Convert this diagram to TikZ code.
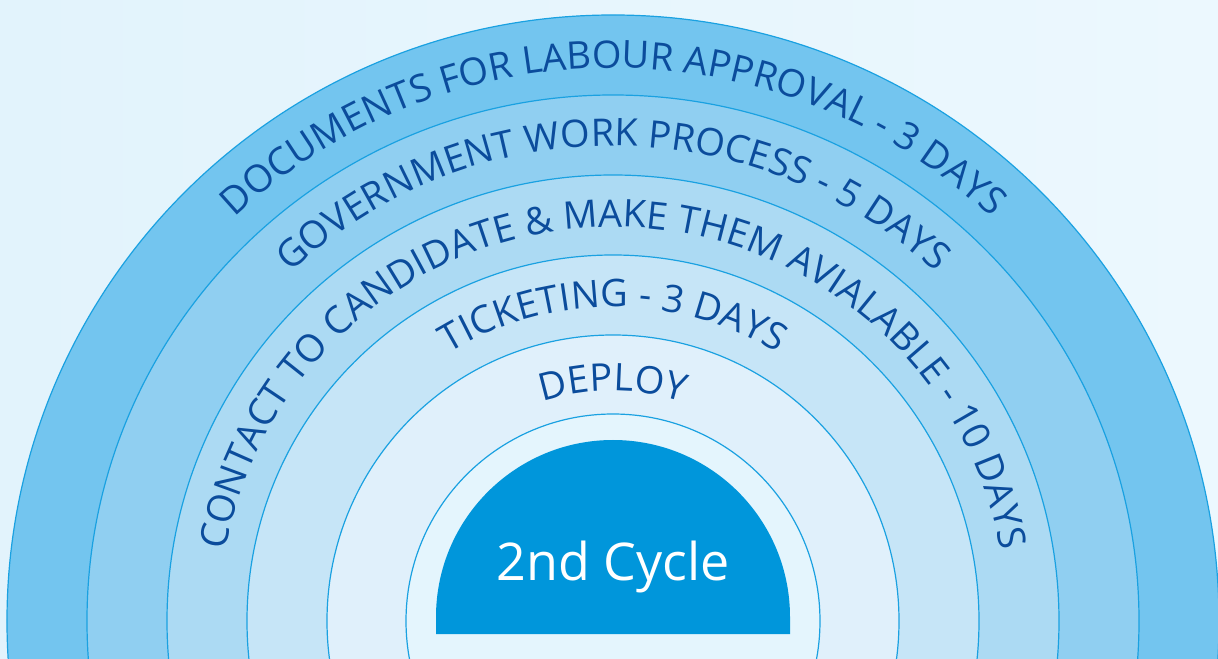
\documentclass[tikz,border=0pt]{standalone}
\usepackage{fontspec}
\setmainfont{Open Sans}
\usepackage{xcolor}
\usepackage{tikz}
\usetikzlibrary{decorations.text}

\definecolor{bgleft}{HTML}{E2F3FC}
\definecolor{bgright}{HTML}{ECF8FE}
\definecolor{ringa}{HTML}{73C5EF}
\definecolor{ringb}{HTML}{90CFF1}
\definecolor{ringc}{HTML}{ACDAF3}
\definecolor{ringd}{HTML}{C6E5F7}
\definecolor{ringe}{HTML}{E0F0FB}
\definecolor{ringf}{HTML}{E4F5FD}
\definecolor{ringline}{HTML}{1AA1E1}
\definecolor{cyclefill}{HTML}{0096DB}
\definecolor{labelblue}{HTML}{0B4C9C}
\newcommand\arcfont{\fontsize{19}{22}\selectfont}

\tikzset{
  ring/.style={draw=ringline,line width=0.6pt},
  arclabel/.style={decorate,decoration={text along path,text align=center,text color=labelblue,text={|\arcfont|#1}}}
}

\begin{document}
\begin{tikzpicture}[x=0.5pt,y=0.5pt]
\fill[left color=bgleft,right color=bgright] (-613,-37) rectangle (605,621);
\useasboundingbox (-613,-37) rectangle (605,621);

%rings, outside in
\foreach \r/\c in {606/ringa,526/ringb,446/ringc,366/ringd,286/ringe,207/ringf}{%
\draw[ring,fill=\c] (0,0) circle[radius=\r];
}

%half disc in the middle
\fill[cyclefill] (-177,-13) -- (-177,4) arc[start angle=180,end angle=0,radius=177] -- (177,-13) -- cycle;
\node[text=white,anchor=base,font=\fontsize{26}{30}\selectfont] (cycle) at (0,41) {2nd Cycle};

%labels on the rings
\path[arclabel={DOCUMENTS FOR LABOUR APPROVAL - 3 DAYS}] (-553,0) arc[start angle=180,end angle=0,radius=553];
\path[arclabel={GOVERNMENT WORK PROCESS - 5 DAYS}] (-475,0) arc[start angle=180,end angle=0,radius=475];
\path[arclabel={CONTACT TO CANDIDATE {\&} MAKE THEM AVIALABLE - 10 DAYS}] (-394,0) arc[start angle=180,end angle=0,radius=394];
\path[arclabel={TICKETING - 3 DAYS}] (-314,0) arc[start angle=180,end angle=0,radius=314];
\path[arclabel={DEPLOY}] (-230,0) arc[start angle=180,end angle=0,radius=230];

\end{tikzpicture}
\end{document}
